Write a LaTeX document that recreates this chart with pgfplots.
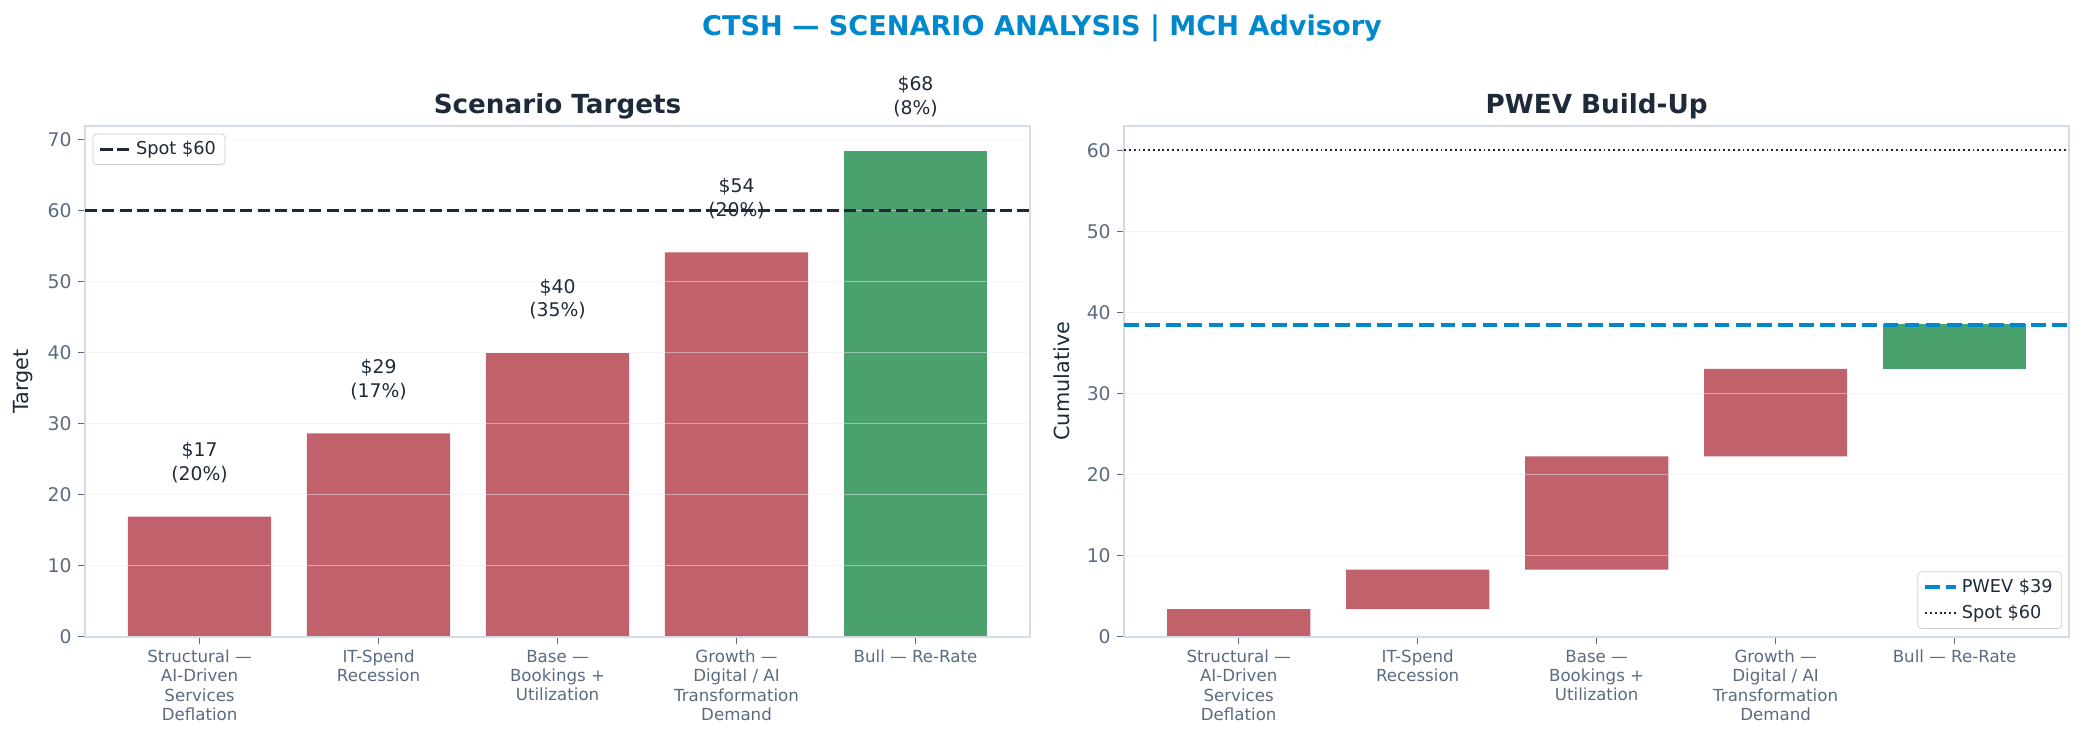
\documentclass[border=0pt]{standalone}
\usepackage{fontspec}
\setmainfont{DejaVu Sans}
\usepackage{pgfplots}
\pgfplotsset{compat=1.18}

\definecolor{barred}{HTML}{C0616C}
\definecolor{bargreen}{HTML}{4AA16E}
\definecolor{navy}{HTML}{1E2A3A}
\definecolor{tickgray}{HTML}{5A6B80}
\definecolor{spinegray}{HTML}{D5DCE6}
\definecolor{titleblue}{HTML}{0088CC}
\definecolor{gridgray}{HTML}{E6E9EE}
\definecolor{legendgray}{HTML}{CCCCCC}

\pgfplotsset{
  panel/.style={
    scale only axis, width=522.4pt, height=282.3pt,
    xmin=-0.64, xmax=4.64, ymin=0,
    axis line style={draw=spinegray, line width=1.1pt},
    tick pos=left, tick align=outside,
    major tick length=3.9pt,
    tick style={draw=tickgray, line width=0.8pt},
    xtick={0,1,2,3,4},
    xticklabels={{Structural —\\AI-Driven\\Services\\Deflation},
                 {IT-Spend\\Recession},
                 {Base —\\Bookings +\\Utilization},
                 {Growth —\\Digital / AI\\Transformation\\Demand},
                 {Bull — Re-Rate}},
    xticklabel style={align=center, font=\fontsize{9.2}{10.6}\selectfont, text=tickgray},
    yticklabel style={font=\fontsize{10.4}{12}\selectfont, text=tickgray},
    /pgf/number format/assume math mode=true,
    scaled y ticks=false,
    ymajorgrids,
    major grid style={draw=gridgray, line width=0.8pt, opacity=0.5},
    axis on top,
    every axis title shift=0pt,
    title style={at={(0.5,1)}, anchor=base, yshift=7pt,
                 font=\fontsize{14.5}{17}\selectfont\bfseries, text=navy},
    ylabel style={font=\fontsize{11.5}{13}\selectfont, text=navy,
                  at={(axis description cs:-0.0657,0.5)}, anchor=center},
  },
  overlay/.style={
    scale only axis, width=522.4pt, height=282.3pt,
    xmin=-0.64, xmax=4.64, ymin=0,
    hide axis,
    legend style={font=\fontsize{9.8}{11.5}\selectfont, text=navy,
                  draw=legendgray, rounded corners=2pt, fill=white,
                  inner xsep=3pt, inner ysep=2pt, row sep=1.5pt},
    legend cell align=left,
  },
  spotdash/.style={navy, line width=1.8pt, dash pattern=on 6.66pt off 2.88pt},
  pwevdash/.style={titleblue, line width=2.2pt, dash pattern=on 8.14pt off 3.52pt},
  spotdot/.style={navy, line width=1pt, dash pattern=on 1pt off 1.65pt},
}

\begin{document}
\begin{tikzpicture}
\path[use as bounding box] (-47pt,-58.3pt) rectangle (1105pt,351.9pt);

\node[anchor=base, font=\fontsize{15}{18}\selectfont\bfseries, text=titleblue]
  at (529pt,332.5pt) {CTSH — SCENARIO ANALYSIS | MCH Advisory};

% left: scenario targets
\begin{axis}[panel,
  at={(0pt,0pt)},
  ybar, bar width=0.8,
  ymax=71.9, ytick={0,10,...,70},
  ylabel={Target},
  title={Scenario Targets},
  every node near coord/.style={font=\fontsize{10.4}{13}\selectfont, text=navy,
    align=center, anchor=south, inner sep=0pt, yshift=18.5pt},
]
\addplot[fill=barred, draw=none, bar shift=0pt,
  point meta=explicit symbolic, nodes near coords]
  coordinates {(0,16.9) [{\$17\\(20\%)}]
               (1,28.6) [{\$29\\(17\%)}]
               (2,39.9) [{\$40\\(35\%)}]
               (3,54.1) [{\$54\\(20\%)}]};
\addplot[fill=bargreen, draw=none, bar shift=0pt,
  point meta=explicit symbolic, nodes near coords]
  coordinates {(4,68.4) [{\$68\\(8\%)}]};
\end{axis}

% left: spot line and legend
\begin{axis}[overlay,
  at={(0pt,0pt)}, ymax=71.9,
  legend style={at={(0.008,0.985)}, anchor=north west},
]
\addplot[spotdash] coordinates {(-0.64,60) (4.64,60)};
\addlegendentry{Spot \$60}
\end{axis}

% right: PWEV build-up, floating bars as stacks on an empty base
\begin{axis}[panel,
  at={(574.4pt,0pt)},
  ybar stacked, bar width=0.8,
  ymax=63, ytick={0,10,...,60},
  ylabel={Cumulative},
  title={PWEV Build-Up},
]
\addplot[fill=none, draw=none] coordinates {(0,0) (1,3.40) (2,8.26) (3,22.22) (4,33.04)};
\addplot[fill=barred, draw=none] coordinates {(0,3.40) (1,4.86) (2,13.96) (3,10.82) (4,0)};
\addplot[fill=bargreen, draw=none] coordinates {(0,0) (1,0) (2,0) (3,0) (4,5.47)};
\end{axis}

% right: reference lines and legend
\begin{axis}[overlay,
  at={(574.4pt,0pt)}, ymax=63,
  legend style={at={(0.9926,0.015)}, anchor=south east},
]
\addplot[pwevdash] coordinates {(-0.64,38.5) (4.64,38.5)};
\addlegendentry{PWEV \$39}
\addplot[spotdot] coordinates {(-0.64,60) (4.64,60)};
\addlegendentry{Spot \$60}
\end{axis}
\end{tikzpicture}
\end{document}
